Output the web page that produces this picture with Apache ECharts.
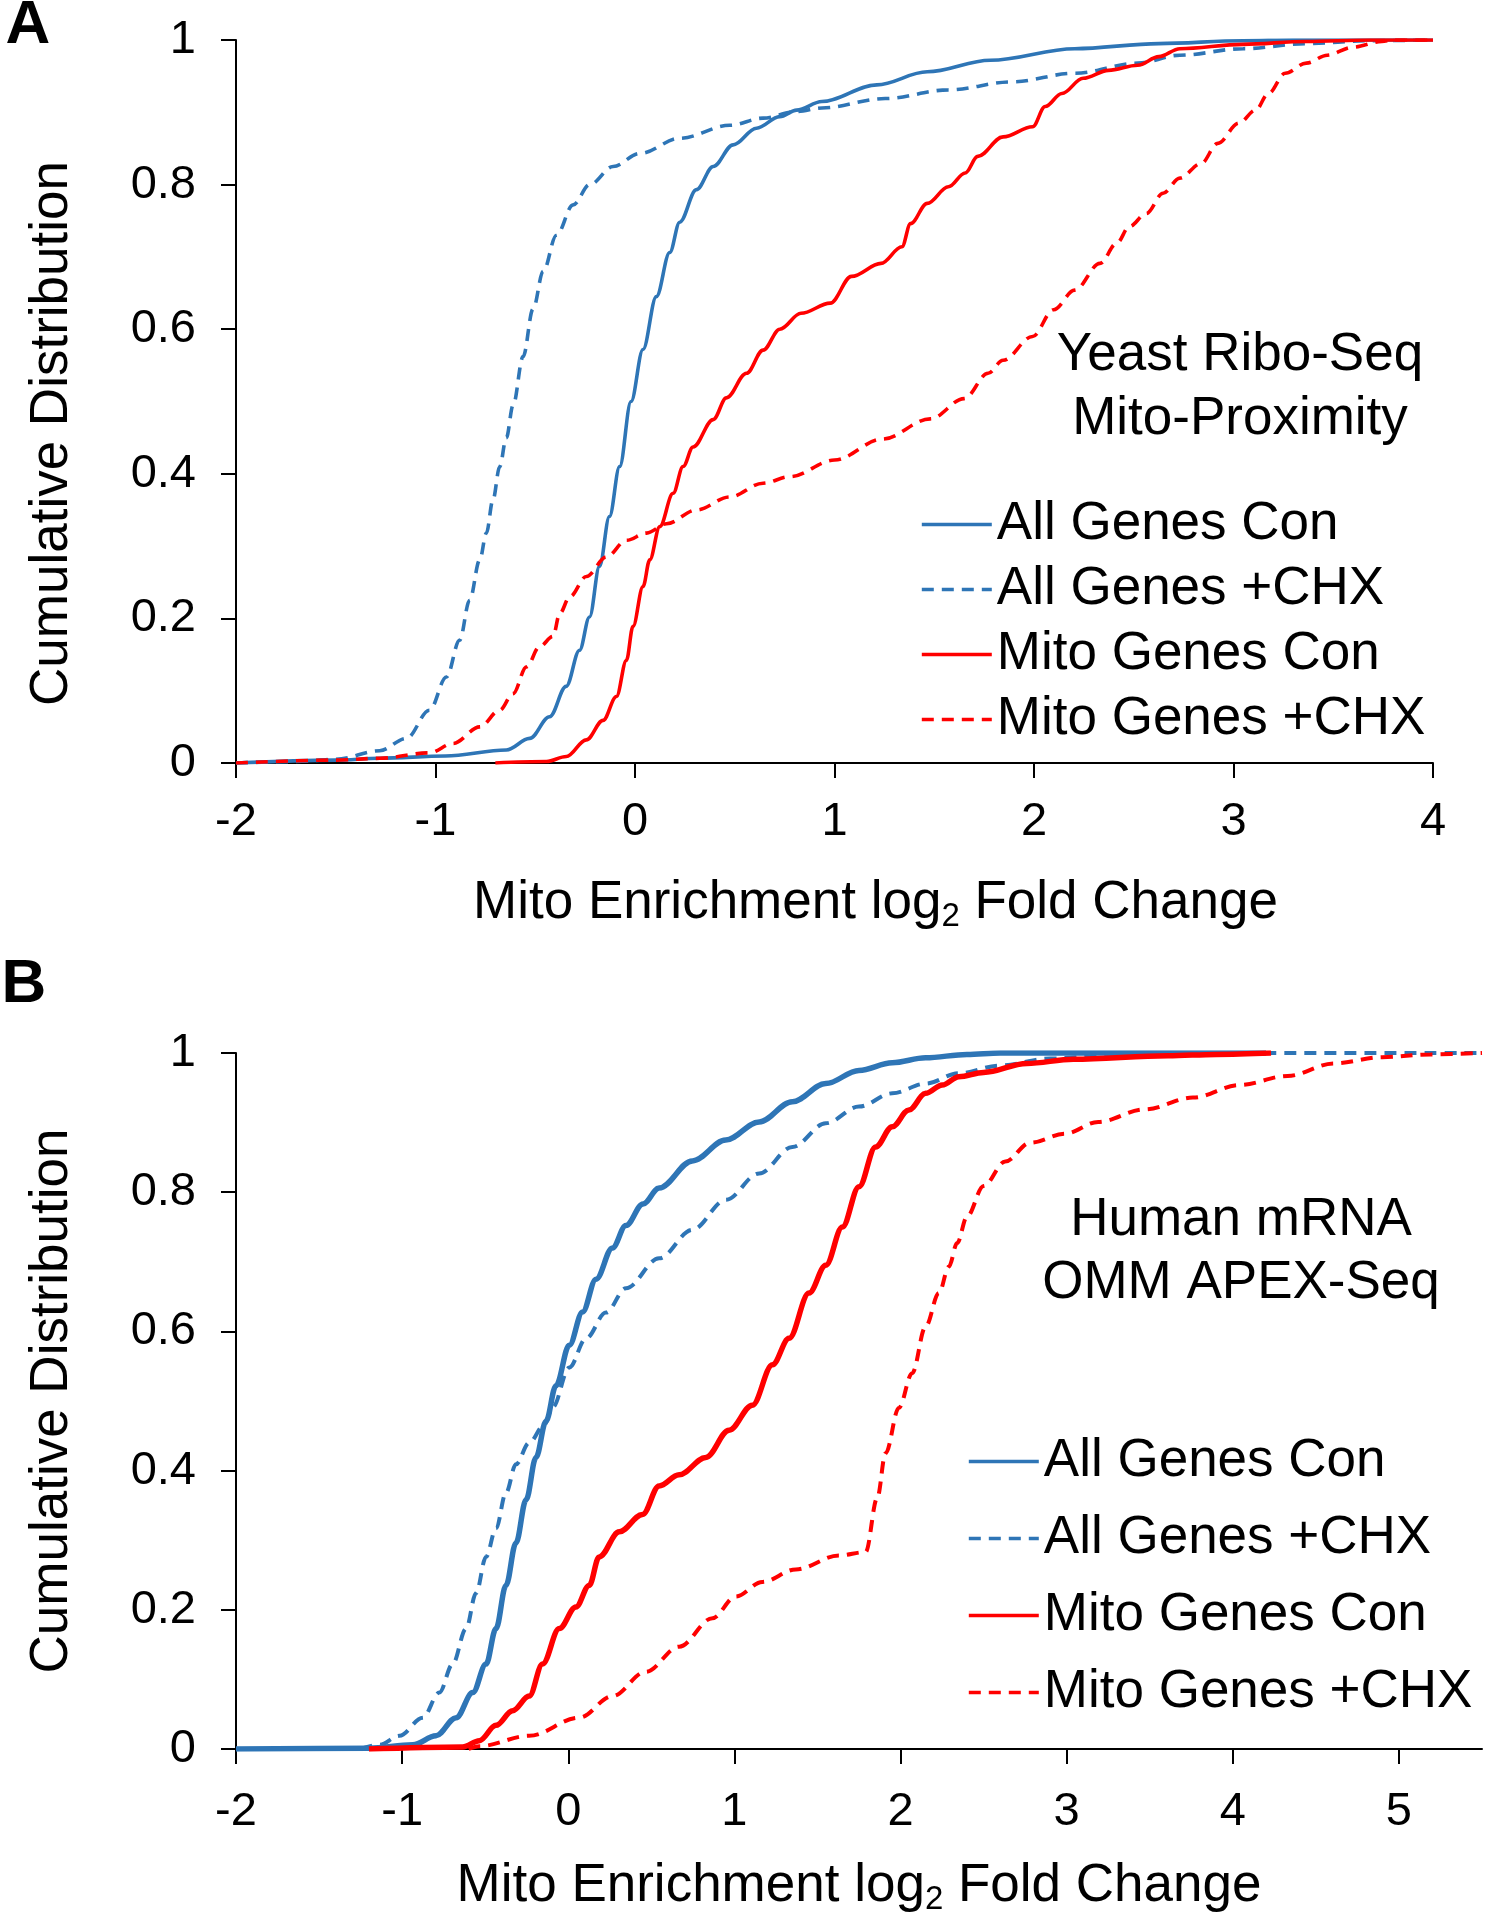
<!DOCTYPE html>
<html><head><meta charset="utf-8">
<script src="https://cdn.jsdelivr.net/npm/echarts@6/dist/echarts.min.js"></script>
<style>html,body{margin:0;padding:0;background:#fff}#c{width:1488px;height:1920px}</style>
</head><body><div id="c"></div>
<script>
const seriesNames = ['All Genes Con', 'All Genes +CHX', 'Mito Genes Con', 'Mito Genes +CHX'];
const xTicksA = [-2, -1, 0, 1, 2, 3, 4];
const xTicksB = [-2, -1, 0, 1, 2, 3, 4, 5];
const yTicks = [0, 0.2, 0.4, 0.6, 0.8, 1];
const panelLetters = ['A', 'B'];
const panelNotes = ['Yeast Ribo-Seq\nMito-Proximity', 'Human mRNA\nOMM APEX-Seq'];
const xTitle = 'Mito Enrichment log{s|2} Fold Change';
const yTitle = 'Cumulative Distribution';

// Panel A: Yeast Ribo-Seq (x = log2 fold change, y = cumulative fraction)
const aAllCon = [[-2,0],[-1.5,0.004],[-1.28,0.0065],[-0.95,0.0097],[-0.645,0.018],[-0.528,0.034],[-0.428,0.064],[-0.345,0.106],[-0.278,0.156],[-0.228,0.202],[-0.178,0.272],[-0.128,0.341],[-0.077,0.41],[-0.02,0.5],[0.04,0.572],[0.107,0.645],[0.174,0.706],[0.224,0.748],[0.308,0.793],[0.392,0.825],[0.492,0.855],[0.609,0.878],[0.726,0.894],[0.81,0.903],[0.937,0.915],[1.212,0.938],[1.465,0.956],[1.781,0.972],[2.204,0.988],[2.626,0.995],[3.048,0.999],[3.3,1],[4,1]];
const aAllChx = [[-2,0],[-1.7,0.002],[-1.5,0.005],[-1.28,0.017],[-1.146,0.034],[-1.03,0.073],[-0.945,0.119],[-0.879,0.17],[-0.829,0.225],[-0.778,0.281],[-0.745,0.318],[-0.712,0.364],[-0.678,0.41],[-0.645,0.45],[-0.611,0.495],[-0.561,0.562],[-0.511,0.628],[-0.46,0.68],[-0.394,0.73],[-0.31,0.772],[-0.227,0.8],[-0.11,0.825],[0.024,0.843],[0.224,0.864],[0.475,0.882],[0.642,0.892],[0.81,0.901],[0.937,0.906],[1.254,0.919],[1.571,0.931],[1.887,0.942],[2.204,0.954],[2.52,0.968],[2.731,0.979],[3.048,0.988],[3.365,0.995],[3.681,0.999],[4,1]];
const aMitoCon = [[-0.7,0],[-0.444,0.002],[-0.344,0.009],[-0.244,0.032],[-0.16,0.059],[-0.093,0.092],[-0.043,0.142],[-0.01,0.189],[0.04,0.244],[0.074,0.281],[0.124,0.327],[0.191,0.373],[0.241,0.41],[0.291,0.437],[0.392,0.475],[0.458,0.505],[0.559,0.539],[0.642,0.571],[0.726,0.6],[0.832,0.622],[0.979,0.636],[1.085,0.673],[1.233,0.691],[1.338,0.714],[1.381,0.746],[1.465,0.774],[1.571,0.797],[1.655,0.816],[1.718,0.839],[1.845,0.866],[1.993,0.88],[2.056,0.908],[2.14,0.926],[2.246,0.947],[2.373,0.958],[2.52,0.965],[2.626,0.977],[2.731,0.988],[3.048,0.994],[3.365,0.998],[3.681,1],[4,1]];
const aMitoChx = [[-2,0],[-1.5,0.004],[-1.28,0.0065],[-1.03,0.014],[-0.912,0.027],[-0.778,0.05],[-0.678,0.073],[-0.611,0.096],[-0.544,0.133],[-0.478,0.161],[-0.411,0.175],[-0.377,0.207],[-0.327,0.23],[-0.244,0.258],[-0.143,0.285],[-0.043,0.308],[0.058,0.318],[0.158,0.331],[0.308,0.35],[0.475,0.368],[0.642,0.387],[0.776,0.396],[1.0,0.419],[1.24,0.448],[1.48,0.476],[1.65,0.504],[1.77,0.539],[1.845,0.557],[1.993,0.59],[2.098,0.627],[2.204,0.654],[2.331,0.691],[2.415,0.719],[2.478,0.742],[2.563,0.76],[2.647,0.788],[2.731,0.809],[2.837,0.829],[2.921,0.857],[3.027,0.885],[3.111,0.903],[3.175,0.926],[3.259,0.954],[3.365,0.968],[3.47,0.979],[3.597,0.99],[3.744,0.998],[3.8,1],[4,1]];

// Panel B: Human mRNA OMM APEX-Seq
const bAllCon = [[-2,0],[-1.2,0.001],[-0.936,0.006],[-0.796,0.019],[-0.675,0.045],[-0.575,0.081],[-0.495,0.122],[-0.435,0.173],[-0.375,0.235],[-0.315,0.296],[-0.254,0.358],[-0.194,0.419],[-0.134,0.471],[-0.074,0.522],[0.006,0.58],[0.086,0.628],[0.167,0.675],[0.266,0.72],[0.347,0.752],[0.45,0.783],[0.547,0.806],[0.747,0.845],[0.948,0.875],[1.149,0.901],[1.349,0.93],[1.55,0.956],[1.75,0.975],[1.95,0.986],[2.151,0.993],[2.4,0.998],[2.6,1],[4.2,1]];
const bAllChx = [[-1.25,0],[-1.137,0.006],[-1.016,0.019],[-0.876,0.045],[-0.776,0.081],[-0.696,0.122],[-0.615,0.173],[-0.555,0.224],[-0.495,0.276],[-0.435,0.317],[-0.375,0.368],[-0.315,0.409],[-0.235,0.44],[-0.144,0.466],[-0.094,0.491],[0.006,0.548],[0.107,0.59],[0.227,0.627],[0.347,0.662],[0.547,0.705],[0.747,0.746],[0.948,0.789],[1.149,0.827],[1.349,0.865],[1.55,0.899],[1.75,0.923],[1.95,0.942],[2.151,0.956],[2.351,0.971],[2.6,0.982],[2.9,0.992],[3.3,0.998],[3.8,1],[5.5,1]];
const bMitoCon = [[-1.2,0],[-0.636,0.003],[-0.535,0.012],[-0.435,0.034],[-0.335,0.055],[-0.235,0.076],[-0.155,0.122],[-0.054,0.173],[0.046,0.204],[0.126,0.235],[0.186,0.276],[0.307,0.312],[0.447,0.337],[0.547,0.378],[0.667,0.394],[0.828,0.419],[0.968,0.458],[1.108,0.494],[1.229,0.552],[1.329,0.59],[1.449,0.655],[1.55,0.695],[1.65,0.75],[1.75,0.808],[1.85,0.865],[1.95,0.894],[2.05,0.918],[2.151,0.942],[2.251,0.954],[2.351,0.966],[2.5,0.972],[2.76,0.985],[3.04,0.991],[3.61,0.996],[3.9,0.998],[4.23,1]];
const bMitoChx = [[-0.6,0],[-0.535,0.004],[-0.235,0.019],[0.066,0.045],[0.266,0.076],[0.467,0.111],[0.667,0.147],[0.868,0.188],[1.008,0.219],[1.168,0.24],[1.369,0.258],[1.63,0.278],[1.79,0.283],[1.86,0.361],[1.91,0.425],[1.99,0.49],[2.07,0.54],[2.151,0.607],[2.231,0.655],[2.291,0.693],[2.341,0.727],[2.4,0.765],[2.5,0.809],[2.63,0.844],[2.78,0.871],[2.99,0.884],[3.19,0.901],[3.47,0.919],[3.76,0.936],[4.04,0.954],[4.33,0.967],[4.61,0.985],[4.9,0.994],[5.19,0.998],[5.5,1]];

const FONT = "'Liberation Sans', Arial, Helvetica, sans-serif";
const BLUE = '#2e75b6';
const RED = '#ff0000';
const DASH = [12, 8];

function xAxisCfg(gi, min, max, ticks, labelMargin, nameGap, namePad) {
  return {
    type: 'value', gridIndex: gi, min: min, max: max, interval: 1,
    axisLine: { show: true, onZero: false, lineStyle: { color: '#000', width: 2 } },
    axisTick: { show: true, length: 15, lineStyle: { color: '#000', width: 2 }, customValues: ticks },
    axisLabel: { show: true, customValues: ticks, fontSize: 47, color: '#000', fontFamily: FONT, margin: labelMargin },
    splitLine: { show: false },
    name: xTitle, nameLocation: 'middle', nameGap: nameGap,
    nameTextStyle: {
      fontSize: 53, color: '#000', fontFamily: FONT, lineHeight: 60, padding: namePad,
      rich: { s: { fontSize: 33, lineHeight: 33, verticalAlign: 'bottom', fontFamily: FONT, color: '#000' } }
    }
  };
}
function yAxisCfg(gi, nameGap, namePad) {
  return {
    type: 'value', gridIndex: gi, min: 0, max: 1, interval: 0.2,
    axisLine: { show: true, onZero: false, lineStyle: { color: '#000', width: 2 } },
    axisTick: { show: true, length: 15, lineStyle: { color: '#000', width: 2 }, customValues: yTicks },
    axisLabel: { show: true, customValues: yTicks, fontSize: 47, color: '#000', fontFamily: FONT, margin: 40 },
    splitLine: { show: false },
    name: yTitle, nameLocation: 'middle', nameGap: nameGap,
    nameTextStyle: { fontSize: 53, color: '#000', fontFamily: FONT, padding: namePad }
  };
}
function line(name, data, gi, color, width, dashed) {
  return {
    type: 'line', name: name, data: data, xAxisIndex: gi, yAxisIndex: gi,
    symbol: 'none', showSymbol: false, smooth: 0.35, smoothMonotone: 'x',
    lineStyle: { color: color, width: width, type: dashed ? DASH : 'solid' },
    itemStyle: { color: color }, emphasis: { disabled: true }
  };
}
function legendCfg(left, top, gap) {
  return {
    data: seriesNames, orient: 'vertical', left: left, top: top, padding: 0,
    itemWidth: 70, itemHeight: 14, itemGap: gap, selectedMode: false,
    itemStyle: { opacity: 0, borderWidth: 0 },
    lineStyle: { width: 3.6 },
    textStyle: { fontSize: 53, lineHeight: 53, color: '#000', fontFamily: FONT }
  };
}
function note(text, x, y, size, weight, lh) {
  return { type: 'text', x: x, y: y, silent: true,
    style: { text: text, fill: '#000', fontSize: size, fontWeight: weight, fontFamily: FONT,
      lineHeight: lh, align: 'center', verticalAlign: 'middle', textAlign: 'center', textVerticalAlign: 'middle' } };
}

const chart = echarts.init(document.getElementById('c'), null, { renderer: 'canvas' });
chart.setOption({
  animation: false,
  backgroundColor: '#fff',
  grid: [
    { left: 236, top: 40, width: 1197, height: 723, outerBoundsMode: 'none', containLabel: false },
    { left: 236, top: 1053, width: 1246, height: 696, outerBoundsMode: 'none', containLabel: false }
  ],
  xAxis: [
    xAxisCfg(0, -2, 4, xTicksA, 36, 110, [0, 0, 0, 82]),
    xAxisCfg(1, -2, 5.5, xTicksB, 40, 107, [0, 0, 0, 0])
  ],
  yAxis: [
    yAxisCfg(0, 157, [0, 64, 0, 0]),
    yAxisCfg(1, 157, [0, 0, 0, 0])
  ],
  legend: [legendCfg(920, 498, 12), legendCfg(967, 1435, 24)],
  series: [
    line(seriesNames[0], aAllCon, 0, BLUE, 3.6, false),
    line(seriesNames[1], aAllChx, 0, BLUE, 3.6, true),
    line(seriesNames[2], aMitoCon, 0, RED, 3.6, false),
    line(seriesNames[3], aMitoChx, 0, RED, 3.6, true),
    line(seriesNames[0], bAllCon, 1, BLUE, 5.5, false),
    line(seriesNames[1], bAllChx, 1, BLUE, 4, true),
    line(seriesNames[2], bMitoCon, 1, RED, 5.5, false),
    line(seriesNames[3], bMitoChx, 1, RED, 4, true)
  ],
  graphic: [
    note(panelLetters[0], 28, 26, 62, 'bold', 62),
    note(panelLetters[1], 24, 985, 62, 'bold', 62),
    note(panelNotes[0], 1240, 387, 53, 'normal', 64),
    note(panelNotes[1], 1241, 1252, 53, 'normal', 63)
  ]
});
</script>
</body></html>
